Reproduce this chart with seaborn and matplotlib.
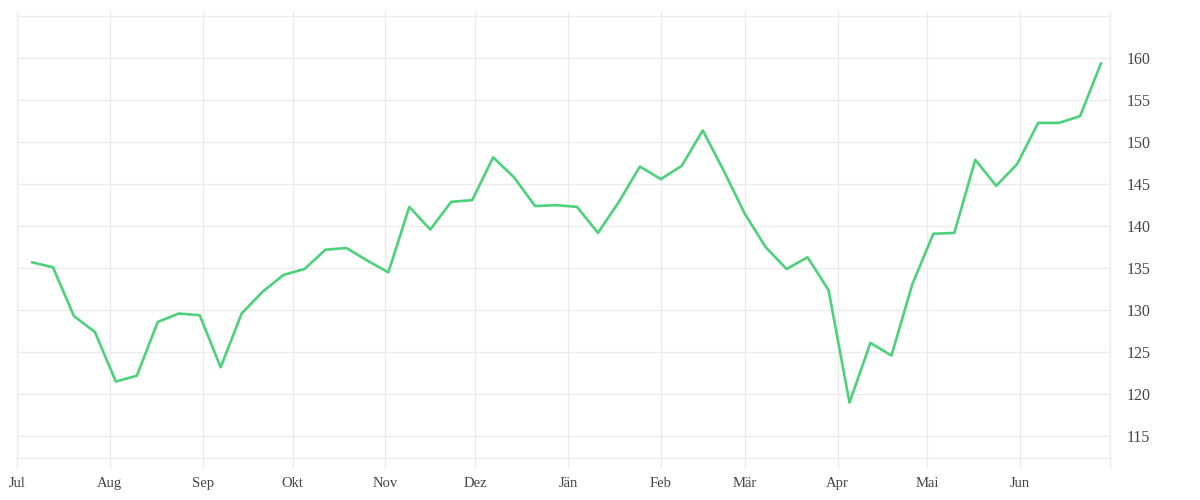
import pandas as pd
import seaborn as sns
import matplotlib.pyplot as plt

# weekly values, Jul 2024 -> Jun 2025
start = '2024-07-06'
values = [135.7, 135.1, 129.3, 127.4, 121.5, 122.2, 128.6, 129.6, 129.4, 123.2,
          129.6, 132.2, 134.2, 134.9, 137.2, 137.4, 135.9, 134.5, 142.3, 139.6,
          142.9, 143.1, 148.2, 145.8, 142.4, 142.5, 142.3, 139.2, 142.9, 147.1,
          145.6, 147.2, 151.4, 146.6, 141.5, 137.5, 134.9, 136.3, 132.4, 119.0,
          126.1, 124.6, 133.1, 139.1, 139.2, 147.9, 144.8, 147.4, 152.3, 152.3,
          153.1, 159.4]
month_labels = ['Jul', 'Aug', 'Sep', 'Okt', 'Nov', 'Dez', 'Jän', 'Feb', 'Mär',
                'Apr', 'Mai', 'Jun', '']
y_ticks = [115, 120, 125, 130, 135, 140, 145, 150, 155, 160]

df = pd.DataFrame({'data': pd.date_range(start, periods=len(values), freq='7D'),
                   'valor': values})

sns.set_style('white')
plt.rcParams['font.family'] = ['Liberation Serif', 'DejaVu Serif']

grid_c = '#ebebeb'
fig = plt.figure(figsize=(12, 5), dpi=100)
ax = fig.add_axes([0.0142, 0.084, 0.9108, 0.892])

sns.lineplot(data=df, x='data', y='valor', ax=ax, color='#4cd27b', linewidth=1.9)

# eixo x: meses
months = pd.date_range('2024-07-01', '2025-07-01', freq='MS')
ax.set_xlim(months[0], months[-1])
ax.set_xticks(months)
ax.set_xticklabels(month_labels)
ax.set_ylim(112.4, 165.5)
ax.set_yticks(y_ticks + [165])
ax.set_yticklabels([str(t) for t in y_ticks] + [''])
ax.yaxis.tick_right()

ax.grid(True, color=grid_c, linewidth=0.9)
ax.tick_params(axis='x', bottom=True, length=7.5, width=0.9, color=grid_c, pad=6,
               labelsize=10.5, labelcolor='#444444')
ax.tick_params(axis='y', length=0, pad=12, labelsize=11.5, labelcolor='#444444')

# linhas das bordas com a mesma cor da grade
ax.spines['top'].set_visible(False)
for s in ['left', 'right', 'bottom']:
    ax.spines[s].set_color(grid_c)
    ax.spines[s].set_linewidth(0.9)

ax.set_xlabel('')
ax.set_ylabel('')
fig.savefig('out.png', dpi=100)
